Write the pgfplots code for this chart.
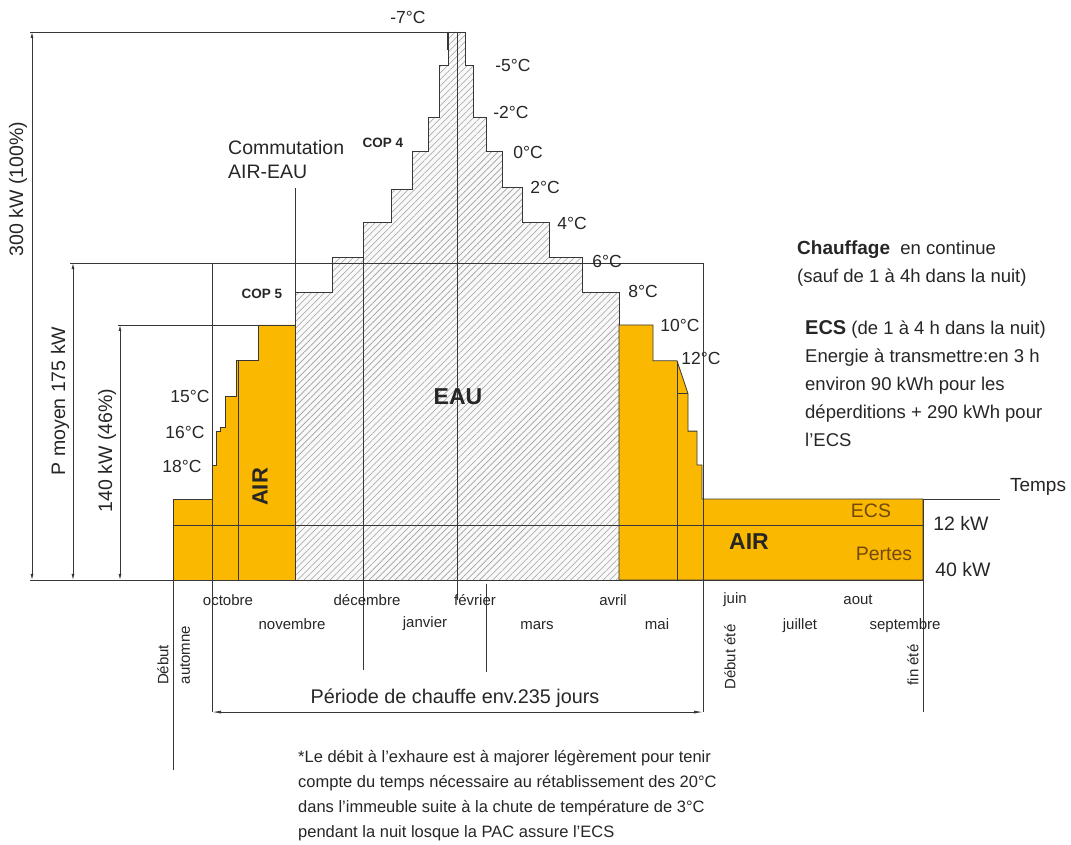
\documentclass[border=0pt]{standalone}
\usepackage{fontspec}
\setmainfont{Liberation Sans}
\usepackage{pgfplots}
\pgfplotsset{compat=1.18}
\usetikzlibrary{patterns.meta,arrows.meta}
\definecolor{jaune}{RGB}{250,185,0}
\definecolor{trait}{RGB}{55,55,55}
\definecolor{brun}{RGB}{115,72,15}
\newcommand{\fs}[1]{\fontsize{#1}{#1}\selectfont}

\begin{document}
\begin{tikzpicture}
\begin{axis}[
  scale only axis, width=1071pt, height=845pt,
  xmin=0, xmax=1071, ymin=-145.07, ymax=317.52,
  hide axis, clip=false,
  every axis plot/.append style={line width=0.8pt},
]
% EAU (hachures)
\addplot[draw=trait, fill=gray!5,
  postaction={pattern={Lines[angle=45,distance=4.6pt,line width=0.6pt]}, pattern color=gray!75}]
coordinates {(295,0) (295,157.5) (332,157.5) (332,176.5) (363,176.5) (363,195.5) (391,195.5)
 (391,214) (412,214) (412,234.5) (428,234.5) (428,253) (439,253) (439,281.5) (448,281.5)
 (448,300) (465,300) (465,281.5) (473,281.5) (473,253.5) (486,253.5) (486,234.5) (502,234.5)
 (502,215) (522,215) (522,195.5) (549,195.5) (549,176.5) (582,176.5) (582,157.5) (619,157.5)
 (619,0) (295,0)};
% AIR gauche
\addplot[draw=trait, fill=jaune]
coordinates {(173,0) (173,44.3) (212,44.3) (212,62.5) (216,62.5) (216,81.5) (220,81.5)
 (220,83.5) (225,83.5) (225,100.5) (236,100.5) (236,120) (258,120) (258,139.6) (295,139.6)
 (295,0) (173,0)};
% AIR droite + ete
\addplot[draw=trait, fill=jaune]
coordinates {(619,0) (619,139.6) (653,139.6) (653,120) (677,120) (688,102) (688,81.5)
 (697,81.5) (697,63) (702,63) (702,44.3) (923,44.3) (923,0) (619,0)};

% traits de repere
\addplot[trait, no marks] coordinates {(238,0) (238,120)};
\addplot[trait, no marks] coordinates {(677,0) (677,120)};
\addplot[trait, no marks] coordinates {(677,102) (688,102)};
\addplot[trait, no marks] coordinates {(212,-72.3) (212,173.5)};
\addplot[trait, no marks] coordinates {(703,-72.3) (703,173.5)};
\addplot[trait, no marks] coordinates {(923,-72.3) (923,44.3)};
\addplot[trait, no marks] coordinates {(173,-104) (173,44.3)};
\addplot[trait, no marks] coordinates {(363,-49.3) (363,195.5)};
\addplot[trait, no marks] coordinates {(457,-11) (457,300)};
\addplot[trait, no marks] coordinates {(486,-2) (486,-50.4)};
\addplot[trait, no marks] coordinates {(295,0) (295,214.6)};
\addplot[trait, no marks] coordinates {(30,300) (448,300)};
\addplot[trait, no marks] coordinates {(447,300) (447,290)};
\addplot[trait, no marks] coordinates {(70,173.5) (703,173.5)};
\addplot[trait, no marks] coordinates {(118,139.6) (258,139.6)};
\addplot[trait, no marks] coordinates {(30,0) (923,0)};
\addplot[trait, no marks] coordinates {(173,30.1) (923,30.1)};
\addplot[trait, no marks] coordinates {(923,44.3) (1000,44.3)};
% cotes
\addplot[trait, no marks, {Latex[length=6pt,width=3pt]}-{Latex[length=6pt,width=3pt]}] coordinates {(32,0) (32,300)};
\addplot[trait, no marks, {Latex[length=6pt,width=3pt]}-{Latex[length=6pt,width=3pt]}] coordinates {(73,0) (73,173.5)};
\addplot[trait, no marks, {Latex[length=6pt,width=3pt]}-{Latex[length=6pt,width=3pt]}] coordinates {(120,0) (120,139.6)};
\addplot[trait, no marks, {Latex[length=9pt,width=3pt]}-{Latex[length=9pt,width=3pt]}] coordinates {(212,-72.3) (703,-72.3)};

% textes
\begin{scope}[every node/.style={text=black!85, inner sep=0pt}]
\node[font=\fs{17.5}] at (axis cs:408,307.7) {-7°C};
\node[font=\fs{17.5}] at (axis cs:513,281.4) {-5°C};
\node[font=\fs{17.5}] at (axis cs:511,255.7) {-2°C};
\node[font=\fs{17.5}] at (axis cs:528,234.3) {0°C};
\node[font=\fs{17.5}] at (axis cs:545,215.1) {2°C};
\node[font=\fs{17.5}] at (axis cs:572,194.9) {4°C};
\node[font=\fs{17.5}] at (axis cs:607,174.1) {6°C};
\node[font=\fs{17.5}] at (axis cs:643,157.7) {8°C};
\node[font=\fs{17.5}] at (axis cs:680,139.6) {10°C};
\node[font=\fs{17.5}] at (axis cs:701,121.5) {12°C};
\node[font=\fs{17.5}] at (axis cs:190,100.7) {15°C};
\node[font=\fs{17.5}] at (axis cs:185,81.0) {16°C};
\node[font=\fs{17.5}] at (axis cs:182,62.4) {18°C};
\node[font=\bfseries\fs{13.5}] at (axis cs:383,239.2) {COP 4};
\node[font=\bfseries\fs{13.5}] at (axis cs:262,156.6) {COP 5};
\node[font=\fs{19.5}, anchor=west] at (axis cs:228,236.5) {Commutation};
\node[font=\fs{19.5}, anchor=west] at (axis cs:228,223.4) {AIR-EAU};
\node[font=\bfseries\fs{23}] at (axis cs:458,100.2) {EAU};
\node[font=\bfseries\fs{22}, rotate=90] at (axis cs:260,50.9) {AIR};
\node[font=\bfseries\fs{23}] at (axis cs:749,20.8) {AIR};
\node[font=\fs{19.5}, text=brun] at (axis cs:871,37.8) {ECS};
\node[font=\fs{19.5}, text=brun] at (axis cs:884,14.2) {Pertes};
\node[font=\fs{19.5}] at (axis cs:961,31.2) {12 kW};
\node[font=\fs{19.5}] at (axis cs:963,5.5) {40 kW};
\node[font=\fs{19}] at (axis cs:1038,50.9) {Temps};
\node[font=\fs{19.5}, rotate=90] at (axis cs:18,214) {300 kW (100\%)};
\node[font=\fs{19.5}, rotate=90] at (axis cs:60,98) {P moyen 175 kW};
\node[font=\fs{19.5}, rotate=90] at (axis cs:107,71) {140 kW (46\%)};
% mois
\node[font=\fs{15}] at (axis cs:228,-10.9) {octobre};
\node[font=\fs{15}] at (axis cs:367,-10.9) {décembre};
\node[font=\fs{15}] at (axis cs:475,-10.9) {février};
\node[font=\fs{15}] at (axis cs:613,-10.9) {avril};
\node[font=\fs{15}] at (axis cs:735,-10.9) {juin};
\node[font=\fs{15}] at (axis cs:858,-10.9) {aout};
\node[font=\fs{15}] at (axis cs:292,-24.1) {novembre};
\node[font=\fs{15}] at (axis cs:425,-24.1) {janvier};
\node[font=\fs{15}] at (axis cs:537,-25.2) {mars};
\node[font=\fs{15}] at (axis cs:657,-24.1) {mai};
\node[font=\fs{15}] at (axis cs:800,-25.2) {juillet};
\node[font=\fs{15}] at (axis cs:905,-25.2) {septembre};
\node[font=\fs{15}, rotate=90] at (axis cs:163,-46.5) {Début};
\node[font=\fs{15}, rotate=90] at (axis cs:185,-41.1) {automne};
\node[font=\fs{15}, rotate=90] at (axis cs:730,-42.2) {Début été};
\node[font=\fs{15}, rotate=90] at (axis cs:913,-46.5) {fin été};
\node[font=\fs{19.8}] at (axis cs:455,-64.6) {Période de chauffe env.235 jours};
% bloc de droite
\node[font=\fs{18.5}, anchor=north west, align=left] at (axis cs:797,186)
  {{\bfseries\fs{19}Chauffage}\ \ en continue\\[9.5pt](sauf de 1 à 4h dans la nuit)};
\node[font=\fs{18.5}, anchor=north west, align=left] at (axis cs:805,142.2)
  {{\bfseries\fs{20}ECS}\ (de 1 à 4 h dans la nuit)\\[9.5pt]Energie à transmettre:en 3 h\\[9.5pt]
   environ 90 kWh pour les\\[9.5pt]déperditions + 290 kWh pour\\[9.5pt]l'ECS};
% note
\node[font=\fs{16.5}, anchor=north west, align=left] at (axis cs:298,-93)
  {*Le débit à l'exhaure est à majorer légèrement pour tenir\\[8.5pt]
   compte du temps nécessaire au rétablissement des 20°C\\[8.5pt]
   dans l'immeuble suite à la chute de température de 3°C\\[8.5pt]
   pendant la nuit losque la PAC assure l'ECS};
\end{scope}
\end{axis}
\path (current axis.south west) rectangle (current axis.north east);
\end{tikzpicture}
\end{document}
